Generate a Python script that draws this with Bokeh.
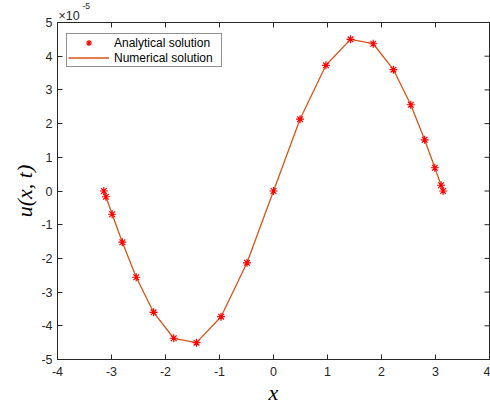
from bokeh.plotting import figure
from bokeh.models import Range1d, FixedTicker, Legend, LegendItem, Title
from bokeh.embed import file_html
from bokeh.resources import INLINE
import math

# Data (u values in units of 1e-5)
x_nodes = [-3.1416, -3.103, -2.988, -2.799, -2.542, -2.221, -1.847, -1.426, -0.971, -0.491,
           0.0, 0.491, 0.971, 1.426, 1.847, 2.221, 2.542, 2.799, 2.988, 3.103, 3.1416]
u_analytical = [0.0, -0.17, -0.69, -1.52, -2.56, -3.60, -4.37, -4.50, -3.73, -2.13,
                0.0, 2.13, 3.73, 4.50, 4.37, 3.60, 2.56, 1.52, 0.69, 0.17, 0.0]
u_numerical = [0.0, -0.17, -0.69, -1.52, -2.56, -3.60, -4.37, -4.50, -3.73, -2.13,
               0.0, 2.13, 3.73, 4.50, 4.37, 3.60, 2.56, 1.52, 0.69, 0.17, 0.0]
x_ticks = [-4, -3, -2, -1, 0, 1, 2, 3, 4]
x_tick_labels = ["-4", "-3", "-2", "-1", "0", "1", "2", "3", "4"]
y_ticks = [-5, -4, -3, -2, -1, 0, 1, 2, 3, 4, 5]
y_tick_labels = ["-5", "-4", "-3", "-2", "-1", "0", "1", "2", "3", "4", "5"]
x_min, x_max = -4, 4
y_min, y_max = -5, 5

AX = "#262626"
FONT = "Liberation Sans"
W, H = 490, 408
B_LEFT, B_RIGHT, B_TOP, B_BOTTOM = 57, 1, 22, 49
FRAME_H = H - B_TOP - B_BOTTOM

p = figure(width=W, height=H, x_range=Range1d(x_min, x_max), y_range=Range1d(y_min, y_max),
           output_backend="svg", toolbar_location=None,
           min_border_left=B_LEFT, min_border_right=B_RIGHT,
           min_border_top=B_TOP, min_border_bottom=B_BOTTOM,
           x_axis_label="x", y_axis_label="u(x, t)")
p.xgrid.visible = False
p.ygrid.visible = False
p.outline_line_color = AX
p.outline_line_width = 1
p.background_fill_color = "white"
p.border_fill_color = "white"

for ax, ticks, labels in ((p.xaxis[0], x_ticks, x_tick_labels),
                          (p.yaxis[0], y_ticks, y_tick_labels)):
    ax.ticker = FixedTicker(ticks=ticks)
    ax.major_label_overrides = {t: s for t, s in zip(ticks, labels)}
    ax.minor_tick_line_color = None
    ax.major_tick_in = 5
    ax.major_tick_out = 0
    ax.axis_line_color = AX
    ax.major_tick_line_color = AX
    ax.major_label_text_color = AX
    ax.major_label_text_font = FONT
    ax.major_label_text_font_size = "12.5px"
    ax.axis_label_text_font = "Liberation Serif"
    ax.axis_label_text_font_style = "italic"
    ax.axis_label_text_color = "black"
    ax.axis_label_text_font_size = "22px"

p.xaxis[0].major_label_standoff = 7
p.xaxis[0].axis_label_standoff = 1
p.yaxis[0].major_label_standoff = 5
p.yaxis[0].axis_label_standoff = 1

# exponent of the y axis (x10^-5), as two stacked titles above the frame
t_base = Title(text="×10", align="left", offset=1, standoff=0, text_font=FONT,
               text_font_size="12.5px", text_font_style="normal", text_color=AX)
t_exp = Title(text="-5", align="left", offset=25, standoff=-4, text_font=FONT,
              text_font_size="8.5px", text_font_style="normal", text_color=AX)
p.add_layout(t_base, "above")
p.add_layout(t_exp, "above")

# mirrored ticks on top and right edges (half of each dash is clipped by the frame)
p.scatter(x_ticks, [y_max] * len(x_ticks), marker="dash", size=10, angle=math.pi / 2,
          line_color=AX, line_width=1)
p.scatter([x_max] * len(y_ticks), y_ticks, marker="dash", size=10,
          line_color=AX, line_width=1)

line = p.line(x_nodes, u_numerical, line_color="#D95319", line_width=1.3)
pts = p.scatter(x_nodes, u_analytical, marker="asterisk", size=8, line_color="#FF0000",
                line_width=1.2)

legend = Legend(items=[LegendItem(label="Analytical solution", renderers=[pts]),
                       LegendItem(label="Numerical solution", renderers=[line])],
                location=(9, FRAME_H - 13 - 32), margin=0, padding=1, spacing=0,
                glyph_width=41, glyph_height=15, label_height=15, label_width=106,
                label_standoff=5,
                label_text_font=FONT, label_text_font_size="12px",
                label_text_color="black", border_line_color=AX, border_line_width=1,
                background_fill_alpha=1)
p.add_layout(legend, "center")

open("out.html", "w").write(file_html(p, INLINE))
